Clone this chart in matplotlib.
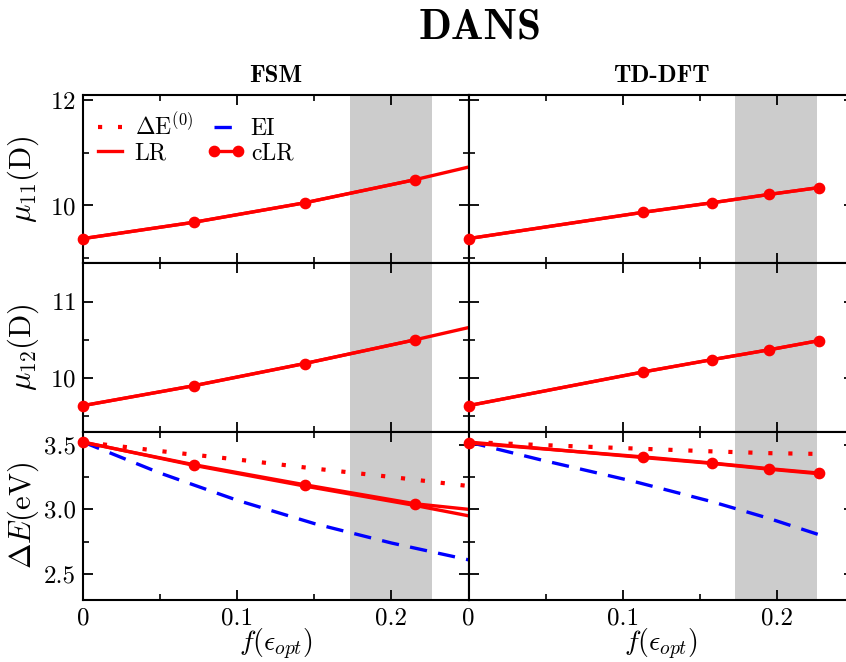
import matplotlib
matplotlib.use('Agg')
import matplotlib.pyplot as plt
from matplotlib.lines import Line2D
from matplotlib.ticker import MultipleLocator, FormatStrFormatter

plt.rcParams['font.family'] = 'cmr10'
plt.rcParams['mathtext.fontset'] = 'cm'
plt.rcParams['axes.unicode_minus'] = False
plt.rcParams['axes.formatter.use_mathtext'] = True

# ---- data ----
# cLR sample points f(eps_opt)
f_fsm = [0.0, 0.0718, 0.1437, 0.2153]
f_td = [0.0, 0.1132, 0.1576, 0.1950, 0.2273]
# LR curve for FSM continues to the edge of the panel
f_fsm_line = [0.0, 0.0718, 0.1437, 0.2153, 0.25]

mu11_fsm_lr = [9.37, 9.68, 10.05, 10.49, 10.73]
mu11_fsm_clr = [9.37, 9.68, 10.05, 10.49]
mu11_td_lr = [9.37, 9.87, 10.05, 10.21, 10.34]
mu11_td_clr = [9.37, 9.87, 10.05, 10.21, 10.34]

mu12_fsm_lr = [9.64, 9.90, 10.19, 10.50, 10.66]
mu12_fsm_clr = [9.64, 9.90, 10.19, 10.50]
mu12_td_lr = [9.64, 10.08, 10.24, 10.37, 10.49]
mu12_td_clr = [9.64, 10.08, 10.24, 10.37, 10.49]

dE_fsm_lr = [3.52, 3.34, 3.18, 3.03, 2.95]
dE_fsm_clr = [3.518, 3.345, 3.19, 3.043, 3.00]
dE_td_lr = [3.52, 3.40, 3.355, 3.31, 3.275]
dE_td_clr = [3.513, 3.405, 3.358, 3.314, 3.28]

# zeroth order and EI curves
f_grid_fsm = [0.0, 0.025, 0.05, 0.1, 0.15, 0.2, 0.25]
dE0_fsm = [3.52, 3.485, 3.45, 3.385, 3.315, 3.25, 3.18]
ei_fsm = [3.52, 3.40, 3.28, 3.07, 2.89, 2.74, 2.61]
f_grid_td = [0.0, 0.0462, 0.107, 0.157, 0.194, 0.2273]
dE0_td = [3.52, 3.497, 3.470, 3.448, 3.434, 3.428]
ei_td = [3.52, 3.384, 3.216, 3.062, 2.933, 2.804]

span_lo, span_hi = 0.173, 0.226

red = '#ff0000'
blue = '#0000ff'
lw = 2.4
ms = 7.4
dotted = (0, (1, 3.8))
dashed = (0, (5.2, 3.4))

fig, axes = plt.subplots(3, 2, figsize=(8.46, 6.62), dpi=100, sharex=True, sharey='row')
fig.subplots_adjust(left=0.0981, right=1.0095, top=0.8565, bottom=0.0937, wspace=0, hspace=0)

for ax in axes.flat:
    ax.axvspan(span_lo, span_hi, color='#cccccc', lw=0, zorder=0)

def draw_mu(ax, f_line, lr, f_pts, clr):
    ax.plot(f_line, lr, color=red, lw=lw, zorder=3)
    ax.plot(f_pts, clr, '-o', color=red, lw=lw, ms=ms, clip_on=False, zorder=5)

draw_mu(axes[0, 0], f_fsm_line, mu11_fsm_lr, f_fsm, mu11_fsm_clr)
draw_mu(axes[0, 1], f_td, mu11_td_lr, f_td, mu11_td_clr)
draw_mu(axes[1, 0], f_fsm_line, mu12_fsm_lr, f_fsm, mu12_fsm_clr)
draw_mu(axes[1, 1], f_td, mu12_td_lr, f_td, mu12_td_clr)

# energies
ax = axes[2, 0]
ax.plot(f_grid_fsm, dE0_fsm, color=red, lw=3.0, ls=dotted, zorder=3)
ax.plot(f_grid_fsm, ei_fsm, color=blue, lw=lw, ls=dashed, zorder=3)
ax.plot(f_fsm_line, dE_fsm_lr, color=red, lw=lw, zorder=4)
ax.plot(f_fsm_line, dE_fsm_clr, '-o', color=red, lw=lw, ms=ms, markevery=[0, 1, 2, 3],
        clip_on=False, zorder=5)

ax = axes[2, 1]
ax.plot(f_grid_td, dE0_td, color=red, lw=3.0, ls=dotted, zorder=3)
ax.plot(f_grid_td, ei_td, color=blue, lw=lw, ls=dashed, zorder=3)
ax.plot(f_td, dE_td_lr, color=red, lw=lw, zorder=4)
ax.plot(f_td, dE_td_clr, '-o', color=red, lw=lw, ms=ms, clip_on=False, zorder=5)

# axes settings
ylims = [(8.9, 12.1), (9.3, 11.5), (2.3, 3.6)]
ymaj = [2, 1, 0.5]
ymin_ = [1, 0.5, 0.25]
ylabels = [r'$\mu_{11}(\mathrm{D})$', r'$\mu_{12}(\mathrm{D})$', r'$\Delta E(\mathrm{eV})$']

for r in range(3):
    for c in range(2):
        ax = axes[r, c]
        ax.set_xlim(0, 0.25)
        ax.set_ylim(*ylims[r])
        ax.xaxis.set_minor_locator(MultipleLocator(0.05))
        ax.yaxis.set_major_locator(MultipleLocator(ymaj[r]))
        ax.yaxis.set_minor_locator(MultipleLocator(ymin_[r]))
        ax.tick_params(which='both', direction='in', top=True, right=True, labelsize=18)
        ax.tick_params(which='major', length=7, width=1.3, pad=5)
        ax.tick_params(which='minor', length=4, width=1.2)
        for s in ax.spines.values():
            s.set_linewidth(1.5)
    axes[r, 0].set_ylabel(ylabels[r], fontsize=22)
    axes[r, 0].yaxis.set_label_coords(-0.11, 0.5)

axes[2, 0].yaxis.set_major_formatter(FormatStrFormatter('%.1f'))
axes[2, 0].set_xticks([0, 0.1, 0.2], ['0', '0.1', '0.2'])

for c in range(2):
    axes[2, c].set_xlabel(r'$f(\epsilon_{opt})$', fontsize=20)
    axes[2, c].xaxis.set_label_coords(0.5, -0.16)

axes[0, 0].set_title('FSM', family='cmb10', fontsize=18, pad=9)
axes[0, 1].set_title('TD-DFT', family='cmb10', fontsize=18, pad=9)
fig.text(0.567, 0.958, 'DANS', family='cmb10', fontsize=31, ha='center', va='center')

# legend order gives rows: dE0, EI / LR, cLR
handles = [
    Line2D([], [], color=red, lw=3.0, ls=dotted),
    Line2D([], [], color=red, lw=lw),
    Line2D([], [], color=blue, lw=lw, ls=dashed),
    Line2D([], [], color=red, lw=lw, marker='o', ms=ms),
]
labels = [r'$\Delta\mathrm{E}^{(0)}$', 'LR', 'EI', 'cLR']
axes[0, 0].legend(handles, labels, loc='upper left', bbox_to_anchor=(-0.025, 1.0),
                  ncol=2, frameon=False, fontsize=17,
                  numpoints=2, handlelength=1.6, handletextpad=0.25, columnspacing=0.6,
                  labelspacing=0.1, borderaxespad=0.45, borderpad=0.3)

fig.savefig('out.png', dpi=100)
